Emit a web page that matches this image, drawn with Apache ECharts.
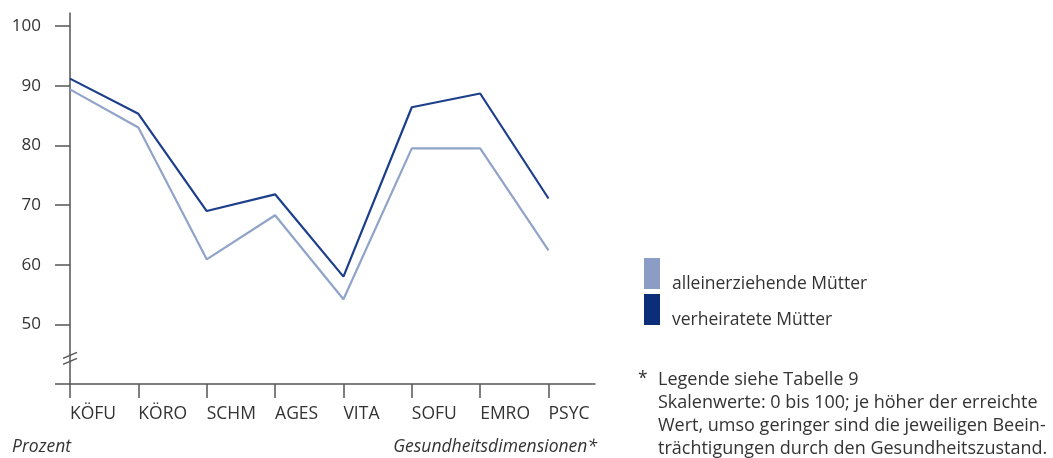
<!DOCTYPE html>
<html>
<head>
<meta charset="utf-8">
<script src="https://cdn.jsdelivr.net/npm/echarts@6/dist/echarts.min.js"></script>
<style>
html,body{margin:0;padding:0;background:#fff;}
#c{width:1053px;height:458px;}
</style>
</head>
<body>
<div id="c"></div>
<script>
const categories = ['KÖFU','KÖRO','SCHM','AGES','VITA','SOFU','EMRO','PSYC'];
const alleinerziehend = [89.4, 83.0, 60.9, 68.3, 54.2, 79.5, 79.5, 62.4];
const verheiratet = [91.2, 85.3, 69.0, 71.8, 58.0, 86.4, 88.7, 71.1];
const yTickValues = [40, 50, 60, 70, 80, 90, 100];
const yLabelValues = [50, 60, 70, 80, 90, 100];
const seriesNames = ['alleinerziehende Mütter', 'verheiratete Mütter'];
const footnote = ['Legende siehe Tabelle 9',
  'Skalenwerte: 0 bis 100; je höher der erreichte',
  'Wert, umso geringer sind die jeweiligen Beein-',
  'trächtigungen durch den Gesundheitszustand.'];

const FONT = '"Open Sans", "Noto Sans", sans-serif';
const TXT = '#333';
const AX = '#555';
const xIdx = categories.map((_, i) => i);

const chart = echarts.init(document.getElementById('c'));
const option = {
  animation: false,
  backgroundColor: '#fff',
  textStyle: { fontFamily: FONT },
  grid: { left: 70, right: 458, top: 13, bottom: 74, containLabel: false },
  xAxis: {
    type: 'value', min: 0, max: 7.68, interval: 1,
    splitLine: { show: false },
    axisLine: { show: true, lineStyle: { color: AX, width: 1.5 } },
    axisTick: { show: true, length: 14, customValues: xIdx, lineStyle: { color: AX, width: 1.5 } },
    axisLabel: {
      customValues: xIdx, formatter: v => categories[v] || '',
      align: 'left', margin: 21, color: TXT, fontSize: 17.5, fontFamily: FONT
    }
  },
  yAxis: {
    type: 'value', min: 40, max: 102.2, interval: 10,
    splitLine: { show: false },
    axisLine: { show: true, lineStyle: { color: AX, width: 1.5 } },
    axisTick: { show: true, length: 15, customValues: yTickValues, lineStyle: { color: AX, width: 1.5 } },
    axisLabel: { customValues: yLabelValues, margin: 29, color: TXT, fontSize: 17, fontFamily: FONT }
  },
  legend: {
    orient: 'vertical', left: 639, top: 247.5,
    itemWidth: 16, itemHeight: 31, itemGap: -6, icon: 'rect',
    formatter: name => '\n{s|}' + name,
    textStyle: {
      color: TXT, fontSize: 17.5, fontFamily: FONT, lineHeight: 21,
      rich: { s: { width: 7, lineHeight: 21 } }
    },
    data: seriesNames
  },
  series: [
    {
      name: seriesNames[0], type: 'line', symbol: 'none',
      data: alleinerziehend.map((v, i) => [i, v]),
      itemStyle: { color: '#8b9dc5' },
      lineStyle: { color: '#90a3c9', width: 2.2 }
    },
    {
      name: seriesNames[1], type: 'line', symbol: 'none',
      data: verheiratet.map((v, i) => [i, v]),
      itemStyle: { color: '#0c2d78' },
      lineStyle: { color: '#1d3f8b', width: 2.2 }
    }
  ]
};
chart.setOption(option);

const p1 = chart.convertToPixel({ gridIndex: 0 }, [0, 44.8]);
const p2 = chart.convertToPixel({ gridIndex: 0 }, [0, 43.8]);
const graphic = [
  { type: 'line', shape: { x1: p1[0] - 7, y1: p1[1] + 3, x2: p1[0] + 7, y2: p1[1] - 3 }, style: { stroke: AX, lineWidth: 1.5 } },
  { type: 'line', shape: { x1: p2[0] - 7, y1: p2[1] + 3, x2: p2[0] + 7, y2: p2[1] - 3 }, style: { stroke: AX, lineWidth: 1.5 } },
  { type: 'text', left: 12, top: 438, style: { text: 'Prozent', font: 'italic 17.5px ' + FONT, fill: TXT } },
  { type: 'text', right: 456, top: 438, style: { text: 'Gesundheitsdimensionen*', font: 'italic 17.5px ' + FONT, fill: TXT } },
  { type: 'text', left: 638, top: 370, style: { text: '*', font: '17.5px ' + FONT, fill: TXT } },
  { type: 'text', left: 658, top: 368, style: { text: footnote.join('\n'), font: '18px ' + FONT, lineHeight: 23, fill: TXT } }
];
chart.setOption({ graphic: graphic });
</script>
</body>
</html>
